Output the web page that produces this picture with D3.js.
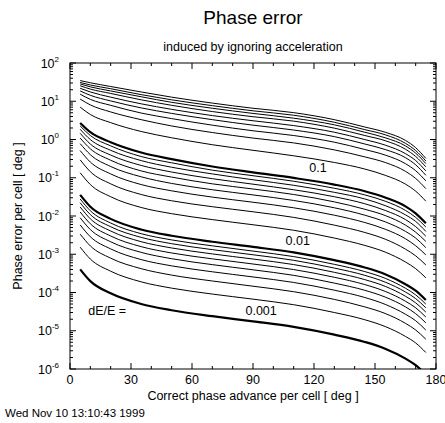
<!DOCTYPE html>
<html>
<head>
<meta charset="utf-8">
<script src="https://cdn.jsdelivr.net/npm/d3@7"></script>
<style>
body{margin:0;background:#fff}
svg text{font-family:"Liberation Sans",Arial,Helvetica,sans-serif;fill:#000}
</style>
</head>
<body>
<svg id="chart" width="445" height="423"></svg>
<script>
// phase advance grid [deg] that every curve is sampled on
const phaseAdvance = [5, 10, 20, 35, 50, 70, 90, 110, 130, 145, 155, 165, 170, 175]

// dE/E of each curve, low -> high
const dEoverE = [0.001,0.002,0.003,0.004,0.005,0.006,0.007,0.008,0.009,
  0.01,0.02,0.03,0.04,0.05,0.06,0.07,0.08,0.09,
  0.1,0.2,0.3,0.4,0.5,0.6,0.7,0.8,0.9,1.0]
const boldLevels = [0.001, 0.01, 0.1]

// phase error per cell [deg], dE/E = 0.001 ... 0.01
const errLow = [
  [4.03e-4,1.98e-4,9.5e-5,5.0e-5,3.43e-5,2.4e-5,1.76e-5,1.26e-5,7.9e-6,5.1e-6,3.4e-6,1.87e-6,1.26e-6,7.2e-7],
  [1.53e-3,7.5e-4,3.6e-4,1.9e-4,1.3e-4,9.1e-5,6.7e-5,4.8e-5,3.0e-5,1.94e-5,1.29e-5,7.1e-6,4.8e-6,2.7e-6],
  [3.35e-3,1.65e-3,7.9e-4,4.2e-4,2.85e-4,2.0e-4,1.46e-4,1.05e-4,6.6e-5,4.2e-5,2.83e-5,1.56e-5,1.05e-5,6.0e-6],
  [5.84e-3,2.87e-3,1.38e-3,7.25e-4,4.97e-4,3.48e-4,2.55e-4,1.83e-4,1.15e-4,7.4e-5,4.9e-5,2.7e-5,1.83e-5,1.04e-5],
  [8.99e-3,4.42e-3,2.12e-3,1.12e-3,7.65e-4,5.35e-4,3.92e-4,2.81e-4,1.76e-4,1.14e-4,7.6e-5,4.2e-5,2.8e-5,1.61e-5],
  [1.27e-2,6.26e-3,3.0e-3,1.58e-3,1.08e-3,7.58e-4,5.56e-4,3.98e-4,2.5e-4,1.61e-4,1.07e-4,5.9e-5,3.98e-5,2.28e-5],
  [1.72e-2,8.44e-3,4.05e-3,2.13e-3,1.46e-3,1.02e-3,7.5e-4,5.37e-4,3.37e-4,2.17e-4,1.45e-4,7.97e-5,5.37e-5,3.07e-5],
  [2.22e-2,1.09e-2,5.24e-3,2.76e-3,1.89e-3,1.32e-3,9.7e-4,6.94e-4,4.35e-4,2.81e-4,1.87e-4,1.03e-4,6.94e-5,3.97e-5],
  [2.78e-2,1.37e-2,6.56e-3,3.45e-3,2.37e-3,1.66e-3,1.21e-3,8.69e-4,5.45e-4,3.52e-4,2.35e-4,1.29e-4,8.69e-5,4.97e-5],
  [3.57e-2,1.75e-2,8.41e-3,4.43e-3,3.04e-3,2.12e-3,1.56e-3,1.12e-3,6.99e-4,4.51e-4,3.01e-4,1.65e-4,1.12e-4,6.37e-5]
]
// dE/E = 0.02 ... 0.1
const errMid = [
  [0.135,0.0664,0.0319,0.0167,0.0115,0.00805,0.0059,0.00424,0.00265,0.0017,0.00114,6.27e-4,4.2e-4,2.42e-4],
  [0.294,0.144,0.0693,0.0365,0.025,0.0175,0.0129,0.0092,0.00577,0.00371,0.00248,0.00136,9.1e-4,5.25e-4],
  [0.512,0.257,0.126,0.0664,0.0455,0.0312,0.0229,0.0164,0.0105,0.00675,0.00452,0.00254,0.00167,9.6e-4],
  [0.78,0.401,0.197,0.106,0.071,0.0486,0.0356,0.0255,0.0164,0.0105,0.00705,0.00396,0.00265,0.00149],
  [1.09,0.571,0.287,0.151,0.104,0.0693,0.0508,0.0365,0.0234,0.015,0.0103,0.00577,0.00378,0.00217],
  [1.45,0.762,0.392,0.21,0.141,0.0946,0.0679,0.0486,0.0319,0.0209,0.014,0.00805,0.00528,0.00296],
  [1.85,0.995,0.522,0.281,0.188,0.126,0.0885,0.0635,0.0416,0.0279,0.0187,0.0107,0.00721,0.00396],
  [2.26,1.27,0.682,0.359,0.246,0.158,0.113,0.0811,0.0531,0.0356,0.0244,0.014,0.0092,0.00516],
  [2.7,1.55,0.851,0.458,0.307,0.197,0.138,0.0989,0.0664,0.0445,0.0305,0.0179,0.0117,0.00646]
]
// dE/E = 0.2 ... 1.0
const errHigh = [
  [7.01,4.5,2.76,1.62,1.11,0.73,0.522,0.375,0.251,0.169,0.116,0.068,0.0446,0.0244],
  [11.4,8.02,5.26,3.3,2.26,1.52,1.09,0.815,0.535,0.351,0.251,0.147,0.0959,0.052],
  [15.3,11.2,7.83,4.92,3.52,2.37,1.69,1.27,0.851,0.547,0.392,0.233,0.153,0.0828],
  [18.6,14.3,10.2,6.71,4.81,3.3,2.37,1.77,1.19,0.762,0.547,0.334,0.218,0.116],
  [21.8,17.5,12.8,8.57,6.14,4.22,3.09,2.31,1.55,0.995,0.713,0.426,0.282,0.151],
  [25.4,20.8,16.0,10.9,7.83,5.38,3.94,3.02,1.98,1.27,0.931,0.556,0.36,0.193],
  [28.4,23.8,18.6,13.1,9.38,6.56,4.81,3.61,2.42,1.55,1.11,0.679,0.44,0.235],
  [31.0,26.6,21.3,14.9,10.9,7.67,5.62,4.31,2.82,1.81,1.33,0.793,0.514,0.275],
  [34.7,30.4,24.3,17.5,12.8,8.95,6.56,5.04,3.3,2.12,1.55,0.946,0.612,0.321]
]

const xTicks = [0,30,60,90,120,150,180]
const yExps = [-6,-5,-4,-3,-2,-1,0,1,2]
const labelText = ["0.1","0.01","0.001","dE/E ="]
const labelAt = [[122,0.18],[112,2.35e-3],[94,3.4e-5],[9,3.3e-5]]

let svg = d3.select("#chart")
let mLeft=70,mRight=436,mTop=63,mBottom=369

let x = d3.scaleLinear().domain([0,180]).range([mLeft,mRight])
let y = d3.scaleLog().domain([1e-6,1e2]).range([mBottom,mTop])

svg.append("defs").append("clipPath").attr("id","plotclip")
  .append("rect").attr("x",mLeft).attr("y",mTop).attr("width",mRight-mLeft).attr("height",mBottom-mTop)

//curves
let allErr = errLow.concat(errMid,errHigh)
let curves = allErr.map((vals,i)=>({level:dEoverE[i],pts:vals.map((v,j)=>[phaseAdvance[j],v])}))
let line = d3.line().x(d=>x(d[0])).y(d=>y(d[1])).curve(d3.curveMonotoneX)

svg.append("g").attr("clip-path","url(#plotclip)")
  .selectAll("path").data(curves).join("path")
  .attr("d",d=>line(d.pts))
  .attr("fill","none")
  .attr("stroke","#000")
  .attr("stroke-width",d=>boldLevels.includes(d.level)?2.2:1)

//frame
svg.append("rect").attr("x",mLeft).attr("y",mTop).attr("width",mRight-mLeft).attr("height",mBottom-mTop)
  .attr("fill","none").attr("stroke","#000").attr("stroke-width",1)

//x ticks, inward on bottom and top
let ax = svg.append("g").attr("stroke","#000").attr("stroke-width",1)
d3.range(0,181,10).forEach(t=>{
  let len = t%30==0 ? 6 : 3
  ax.append("line").attr("x1",x(t)).attr("x2",x(t)).attr("y1",mBottom).attr("y2",mBottom-len)
  ax.append("line").attr("x1",x(t)).attr("x2",x(t)).attr("y1",mTop).attr("y2",mTop+len)
})
//y ticks, log minors
yExps.forEach(e=>{
  for(let k=1;k<10;k++){
    let v = k*Math.pow(10,e)
    if(v>1e2) break
    let len = k==1 ? 6 : 3
    ax.append("line").attr("x1",mLeft).attr("x2",mLeft+len).attr("y1",y(v)).attr("y2",y(v))
    ax.append("line").attr("x1",mRight).attr("x2",mRight-len).attr("y1",y(v)).attr("y2",y(v))
  }
})

svg.selectAll(".xlab").data(xTicks).join("text")
  .attr("class","xlab")
  .attr("x",d=>x(d)).attr("y",mBottom+15)
  .attr("text-anchor","middle").attr("font-size",12.5)
  .text(d=>d)

let ylab = svg.selectAll(".ylab").data(yExps).join("text")
  .attr("class","ylab")
  .attr("x",mLeft-11).attr("y",d=>y(Math.pow(10,d))+4.5)
  .attr("text-anchor","end").attr("font-size",12.5)
ylab.append("tspan").text("10")
ylab.append("tspan").attr("dy",-6).attr("font-size",8).text(d=>d)

//titles
svg.append("text").attr("x",(mLeft+mRight)/2).attr("y",24).attr("text-anchor","middle")
  .attr("font-size",19).text("Phase error")
svg.append("text").attr("x",(mLeft+mRight)/2).attr("y",51).attr("text-anchor","middle")
  .attr("font-size",12.5).text("induced by ignoring acceleration")
svg.append("text").attr("x",(mLeft+mRight)/2).attr("y",mBottom+31).attr("text-anchor","middle")
  .attr("font-size",12.5).text("Correct phase advance per cell  [ deg ]")
svg.append("text").attr("transform",`translate(22,${(mTop+mBottom)/2}) rotate(-90)`)
  .attr("text-anchor","middle").attr("font-size",12.5).text("Phase error per cell  [ deg ]")
svg.append("text").attr("x",5).attr("y",417).attr("font-size",11.5).text("Wed Nov 10 13:10:43 1999")

//curve labels
svg.selectAll(".clab").data(labelText).join("text")
  .attr("class","clab")
  .attr("x",(d,i)=>x(labelAt[i][0])).attr("y",(d,i)=>y(labelAt[i][1])+4.5)
  .attr("text-anchor",(d,i)=>i==3?"start":"middle")
  .attr("font-size",12.5).text(d=>d)
</script>
</body>
</html>
